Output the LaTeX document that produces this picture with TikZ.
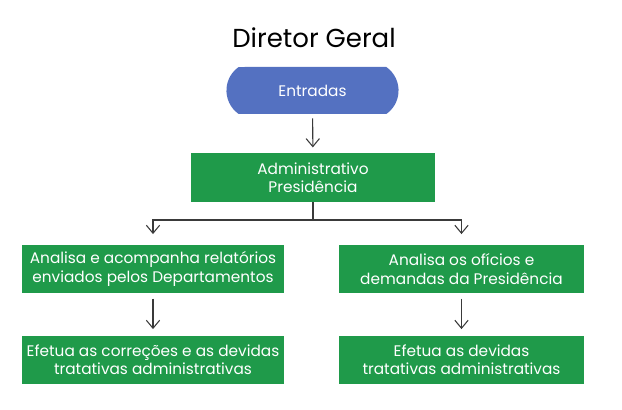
\documentclass[tikz,border=0pt]{standalone}
\usepackage{fontspec}
\setmainfont{Poppins}
\usepackage{tikz}
\usetikzlibrary{arrows.meta,positioning,shapes.misc}
\definecolor{BoxGreen}{HTML}{1F9A4A}
\definecolor{StartBlue}{HTML}{5471C1}
\definecolor{LineGray}{HTML}{3A3A3A}

\begin{document}
\begin{tikzpicture}[
x=0.75pt,y=-0.75pt,
box/.style={fill=BoxGreen,text=white,align=center,inner sep=2pt,font=\fontsize{11.5}{13.8}\selectfont},
start/.style={rounded rectangle,rounded rectangle arc length=110,fill=StartBlue,text=white,font=\fontsize{11.5}{13.8}\selectfont,minimum width=135.75pt,minimum height=35.25pt},
arr/.style={-{Straight Barb[length=6pt,width=10pt]},line width=0.8pt,draw=LineGray}
]
\useasboundingbox (0,0) rectangle (622,410);
\node[font=\fontsize{19.5}{23}\selectfont] (title) at (314,38) {Diretor Geral};
\node[start] (ent) at (312.5,90.5) {Entradas};
\node[box,minimum width=183pt,minimum height=36.75pt] (adm) at (313,177.5) {Administrativo\\Presidência};
\node[box,minimum width=196.5pt,minimum height=36pt] (rel) at (153,269) {Analisa e acompanha relatórios\\enviados pelos Departamentos};
\node[box,minimum width=196.5pt,minimum height=36pt] (cor) at (153,360) {Efetua as correções e as devidas\\tratativas administrativas};
\node[box,minimum width=183.75pt,minimum height=36pt] (ofi) at (461.5,269) {Analisa os ofícios e\\demandas da Presidência};
\node[box,minimum width=183.75pt,minimum height=36pt] (dev) at (461.5,360) {Efetua as devidas\\tratativas administrativas};
\coordinate (split) at (313,220);
\draw[arr,shorten <=3pt,shorten >=4pt] (ent) -- (adm);
\draw[draw=LineGray,line width=0.8pt] (adm) -- (split);
\draw[arr,shorten >=8pt] (split) -| (rel);
\draw[arr,shorten >=8pt] (split) -| (ofi);
\draw[arr,shorten <=4pt,shorten >=5pt] (rel) -- (cor);
\draw[arr,shorten <=4pt,shorten >=5pt] (ofi) -- (dev);
\end{tikzpicture}
\end{document}
